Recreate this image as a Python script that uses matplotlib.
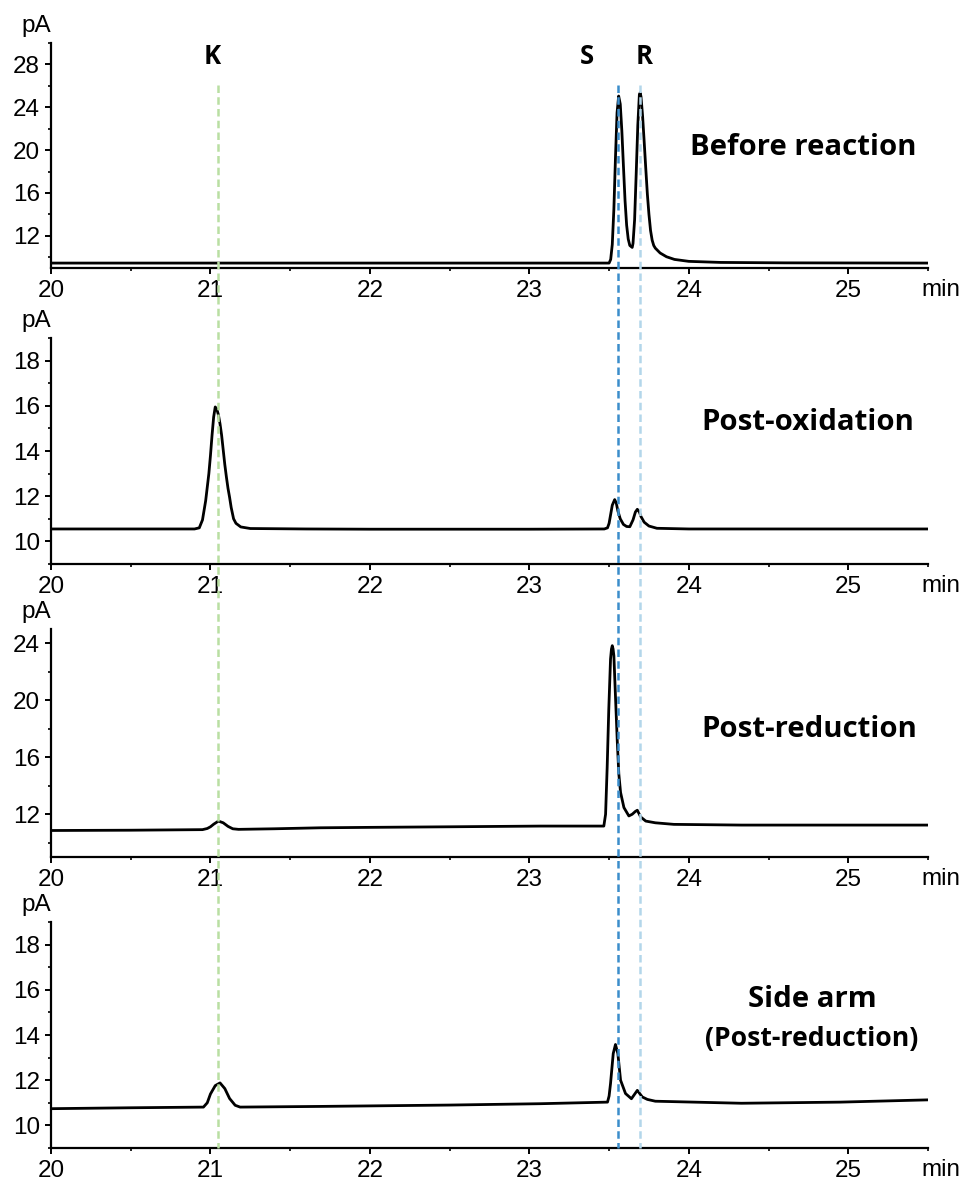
import matplotlib
matplotlib.use("Agg")
import matplotlib.pyplot as plt
from matplotlib.ticker import MultipleLocator
from matplotlib.transforms import blended_transform_factory
from matplotlib.lines import Line2D

# ---------------- data ----------------
panel_titles = ["Before reaction", "Post-oxidation", "Post-reduction", "Side arm", "(Post-reduction)"]

t_before = [20.0, 21.0, 22.0, 23.0, 23.50, 23.51, 23.52, 23.53, 23.54, 23.55, 23.56, 23.57, 23.58,
            23.59, 23.60, 23.61, 23.62, 23.63, 23.645, 23.65, 23.66, 23.67, 23.68, 23.69, 23.695,
            23.70, 23.71, 23.72, 23.73, 23.74, 23.75, 23.76, 23.77, 23.78, 23.79, 23.82, 23.86,
            23.91, 24.0, 24.2, 24.6, 25.0, 25.5]
y_before = [9.46, 9.46, 9.46, 9.46, 9.46, 9.8, 11.2, 14.5, 19.3, 23.5, 25.05, 24.3, 21.8,
            18.5, 15.3, 13.0, 11.7, 11.1, 10.92, 11.3, 13.5, 17.8, 22.3, 25.2, 25.35,
            25.0, 23.2, 20.8, 18.3, 15.9, 14.0, 12.5, 11.6, 11.1, 10.85, 10.4, 10.05,
            9.8, 9.62, 9.52, 9.48, 9.47, 9.46]

t_oxid = [20.0, 20.5, 20.90, 20.93, 20.95, 20.97, 20.99, 21.00, 21.01, 21.02, 21.03, 21.04, 21.05,
          21.06, 21.07, 21.08, 21.09, 21.10, 21.11, 21.12, 21.13, 21.145, 21.16, 21.19, 21.25,
          21.6, 22.0, 23.0, 23.47, 23.49, 23.50, 23.51, 23.52, 23.535, 23.545, 23.555, 23.57,
          23.59, 23.61, 23.63, 23.65, 23.665, 23.677, 23.69, 23.70, 23.72, 23.75, 23.80, 24.0,
          25.5]
y_oxid = [10.55, 10.55, 10.55, 10.6, 10.95, 11.8, 13.0, 13.8, 14.7, 15.5, 15.95, 15.85, 15.6,
          15.2, 14.7, 14.05, 13.4, 12.85, 12.35, 11.95, 11.5, 11.0, 10.8, 10.64, 10.57,
          10.55, 10.54, 10.54, 10.55, 10.6, 10.8, 11.2, 11.6, 11.85, 11.7, 11.35, 11.0,
          10.75, 10.66, 10.65, 10.95, 11.3, 11.42, 11.3, 11.1, 10.85, 10.68, 10.58, 10.55,
          10.55]

t_red = [20.0, 20.5, 20.95, 20.98, 21.0, 21.02, 21.05, 21.08, 21.11, 21.14, 21.176, 21.4, 21.69,
         22.0, 22.5, 23.07, 23.467, 23.478, 23.488, 23.498, 23.509, 23.515, 23.52, 23.525, 23.53,
         23.54, 23.551, 23.561, 23.572, 23.593, 23.624, 23.645, 23.665, 23.677, 23.698, 23.73,
         23.79, 23.906, 24.33, 25.0, 25.5]
y_red = [10.86, 10.88, 10.92, 11.0, 11.12, 11.3, 11.52, 11.4, 11.15, 10.98, 10.94, 10.98, 11.05,
         11.08, 11.12, 11.17, 11.17, 12.0, 15.31, 19.34, 22.89, 23.6, 23.83, 23.6, 23.12,
         20.28, 17.2, 14.84, 13.53, 12.47, 11.88, 12.0, 12.2, 12.28, 11.81, 11.52,
         11.4, 11.29, 11.24, 11.24, 11.24]

t_side = [20.0, 20.5, 20.956, 20.98, 21.0, 21.03, 21.06, 21.09, 21.12, 21.155, 21.186, 21.69,
          22.5, 23.07, 23.49, 23.50, 23.509, 23.526, 23.54, 23.555, 23.572, 23.603, 23.64,
          23.677, 23.708, 23.74, 23.79, 24.33, 24.95, 25.5]
y_side = [10.74, 10.78, 10.81, 11.0, 11.39, 11.76, 11.88, 11.63, 11.19, 10.89, 10.81, 10.84,
          10.9, 10.96, 11.03, 11.3, 11.85, 13.18, 13.58, 13.18, 12.0, 11.41, 11.18,
          11.55, 11.26, 11.15, 11.07, 10.98, 11.03, 11.13]

times = [t_before, t_oxid, t_red, t_side]
signals = [y_before, y_oxid, y_red, y_side]

y_limits = [(9, 30), (9, 19), (9, 25), (9, 19)]
y_major_ticks = [[12, 16, 20, 24, 28], [10, 12, 14, 16, 18], [12, 16, 20, 24], [10, 12, 14, 16, 18]]
y_minor_step = [2, 1, 2, 1]
x_ticks = [20, 21, 22, 23, 24, 25]

marker_names = ["K", "S", "R"]
marker_times = [21.046, 23.553, 23.695]
marker_colors = ["#b9dfa2", "#3b8dcb", "#b3d6ea"]

# ---------------- layout ----------------
W, H = 964, 1182
fig = plt.figure(figsize=(W / 100, H / 100), dpi=100)
tick_font = "Liberation Sans"
bold_font = "Open Sans"
FS = 17.5

panel_px = [(43, 268), (338, 564), (629, 857), (922, 1148)]
left_px, right_px = 51, 928
# (center x, baseline y, size)
title_specs = [(803, 155, 21.2), (807.5, 430, 21.2), (809.5, 737, 21.2),
               (812.5, 1007, 21.2), (811.5, 1046, 19.1)]

def fx(px):
    return px / W

def fy(py):
    return 1 - py / H

axes = []
for i in range(4):
    top, bot = panel_px[i]
    ax = fig.add_axes([fx(left_px), fy(bot), (right_px - left_px) / W, (bot - top) / H])
    ax.plot(times[i], signals[i], color="black", lw=2.0, solid_joinstyle="round", zorder=3)
    ax.set_xlim(20, 25.5)
    ax.set_xticks(x_ticks)
    ax.xaxis.set_minor_locator(MultipleLocator(0.5))
    ax.set_yticks(y_major_ticks[i])
    ax.yaxis.set_minor_locator(MultipleLocator(y_minor_step[i]))
    ax.set_ylim(*y_limits[i])
    for s in ["top", "right"]:
        ax.spines[s].set_visible(False)
    for s in ["left", "bottom"]:
        ax.spines[s].set_linewidth(1.6)
    ax.tick_params(which="major", direction="out", length=4.5, width=1.4, labelsize=FS)
    ax.tick_params(axis="x", which="major", pad=4)
    ax.tick_params(axis="y", which="major", pad=3.5)
    ax.tick_params(which="minor", direction="out", length=2.5, width=1.2)
    for lab in ax.get_xticklabels() + ax.get_yticklabels():
        lab.set_fontfamily(tick_font)
    fig.text(fx(36), fy(top - 6), "pA", ha="center", va="bottom",
             fontsize=FS, fontfamily=tick_font)
    fig.text(fx(921), fy(bot + 11), "min", ha="left", va="top",
             fontsize=FS, fontfamily=tick_font)
    axes.append(ax)

for title, (tx, ty, ts) in zip(panel_titles, title_specs):
    fig.text(fx(tx), fy(ty), title, ha="center", va="baseline",
             fontsize=ts, fontweight="bold", fontfamily=bold_font)

# dashed marker lines spanning all panels
tr = blended_transform_factory(axes[0].transData, fig.transFigure)
label_x_px = [212, 587, 644]
for name, t, c, lx in zip(marker_names, marker_times, marker_colors, label_x_px):
    ln = Line2D([t, t], [fy(85), fy(1148)], transform=tr, color=c, lw=1.8,
                linestyle=(0, (3.0, 1.7)), zorder=10)
    fig.add_artist(ln)
    fig.text(fx(lx), fy(64), name, ha="center", va="baseline", fontsize=18.5,
             fontweight="bold", fontfamily=bold_font)

fig.savefig("out.png", dpi=100)
